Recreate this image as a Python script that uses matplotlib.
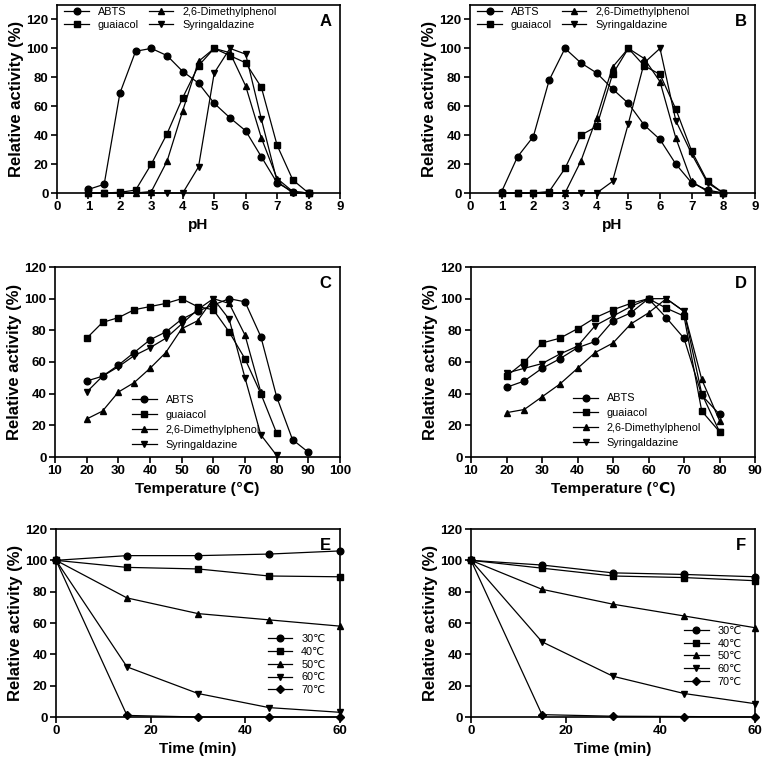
import numpy as np
import matplotlib
matplotlib.use("Agg")
import matplotlib.pyplot as plt

plt.rcParams['font.family'] = ['Liberation Sans', 'DejaVu Sans', 'Noto Sans CJK SC']

# ---- data ----
substrates = ["ABTS", "guaiacol", "2,6-Dimethylphenol", "Syringaldazine"]
ph = [1, 1.5, 2, 2.5, 3, 3.5, 4, 4.5, 5, 5.5, 6, 6.5, 7, 7.5, 8]

# panel A (pH)
a_abts = [2.5, 6, 69, 98, 100, 95, 84, 76, 62, 52, 43, 25, 7, 1, 0]
a_guai = [0, 0, 0.5, 2, 20, 41, 66, 88, 100, 95, 90, 73, 33, 9, 0]
a_dmp = [0, 0, 0, 0, 1, 22, 57, 91, 100, 97, 74, 38, 10, 1, 0]
a_syr = [0, 0, 0, 0, 0, 0, 0, 18, 83, 100, 96, 51, 8, 0, 0]

# panel B (pH)
b_abts = [1, 25, 39, 78, 100, 90, 83, 72, 62, 47, 37, 20, 7, 2, 0]
b_guai = [0, 0, 0, 1, 17, 40, 46, 82, 100, 88, 82, 58, 29, 8, 0]
b_dmp = [0, 0, 0, 0, 0, 22, 52, 87, 100, 93, 77, 38, 8, 1, 0]
b_syr = [0, 0, 0, 0, 0, 0, 0, 8, 48, 90, 100, 50, 27, 7, 0]

# panel C (temperature)
temp_c = [20, 25, 30, 35, 40, 45, 50, 55, 60, 65, 70, 75, 80, 85, 90]
c_abts = [48, 51, 58, 66, 74, 79, 87, 92, 96, 100, 98, 76, 38, 11, 3]
c_guai = [75, 85, 88, 93, 95, 97, 100, 95, 93, 79, 62, 40, 15]
c_dmp = [24, 29, 41, 47, 56, 66, 81, 86, 100, 97, 77, 41]
c_syr = [41, 51, 57, 64, 69, 75, 84, 93, 100, 87, 50, 14, 1]

# panel D (temperature)
temp_d = [20, 25, 30, 35, 40, 45, 50, 55, 60, 65, 70, 75, 80]
d_abts = [44, 48, 56, 62, 69, 73, 86, 91, 100, 88, 75, 39, 27]
d_guai = [51, 60, 72, 75, 81, 88, 93, 97, 100, 94, 89, 29, 16]
d_dmp = [28, 30, 38, 46, 56, 66, 72, 84, 91, 100, 92, 49, 23]
d_syr = [53, 56, 59, 65, 70, 83, 89, 95, 100, 100, 92, 40, 16]

# panels E, F (thermostability)
temps = ["30℃", "40℃", "50℃", "60℃", "70℃"]
time_min = [0, 15, 30, 45, 60]
e_30 = [100, 103, 103, 104, 106]
e_40 = [100, 95.5, 94.5, 90, 89.5]
e_50 = [100, 76, 66, 62, 58]
e_60 = [100, 32, 15, 6, 3]
e_70 = [100, 1, 0, 0, 0]
f_30 = [100, 97, 92, 91, 89.5]
f_40 = [100, 95, 90, 89, 87]
f_50 = [100, 81.5, 72, 64.5, 57]
f_60 = [100, 48, 26, 15, 8.5]
f_70 = [100, 1.5, 0.5, 0.3, 0]

markers = ['o', 's', '^', 'v', 'D']

fig = plt.figure(figsize=(7.66, 7.65), dpi=100)
W, H = 766.0, 765.0


def make_axes(left, top, right, bottom):
    # pixel box -> figure fraction
    return fig.add_axes([left / W, 1 - bottom / H, (right - left) / W, (bottom - top) / H])


def draw(ax, xs_list, ys_list, labels, xlim, ylim, xticks, xlabel, letter,
         leg_anchor, leg_cols, leg_space=0.25):
    for i, (xs, ys) in enumerate(zip(xs_list, ys_list)):
        ms = 3.8 if markers[i] == 'D' else 4.8
        ax.plot(xs, ys, color='black', lw=0.9, marker=markers[i], ms=ms,
                label=labels[i], clip_on=False, zorder=3)
    ax.set_xlim(*xlim)
    ax.set_ylim(*ylim)
    ax.set_xticks(xticks)
    ax.set_yticks([0, 20, 40, 60, 80, 100, 120])
    for sp in ax.spines.values():
        sp.set_linewidth(1.2)
    ax.tick_params(direction='out', length=4, width=1.2, labelsize=9.5, pad=2)
    for lab in ax.get_xticklabels() + ax.get_yticklabels():
        lab.set_fontweight('bold')
    ax.set_xlabel(xlabel, fontsize=11, fontweight='bold', labelpad=3)
    ax.set_ylabel("Relative activity (%)", fontsize=12, fontweight='bold', labelpad=2)
    ax.text(0.97, 0.95, letter, transform=ax.transAxes, ha='right', va='top',
            fontsize=12, fontweight='bold')
    ax.legend(loc='upper left', bbox_to_anchor=leg_anchor, ncol=leg_cols,
              frameon=False, fontsize=7.8, handlelength=2.3, handletextpad=0.8,
              columnspacing=0.9, labelspacing=leg_space, borderpad=0, borderaxespad=0)


axA = make_axes(57, 5, 340, 193)
draw(axA, [ph] * 4, [a_abts, a_guai, a_dmp, a_syr], substrates, (0, 9), (0, 130),
     range(0, 10), "pH", "A", (0.025, 0.99), 2)

axB = make_axes(470, 5, 755, 193)
draw(axB, [ph] * 4, [b_abts, b_guai, b_dmp, b_syr], substrates, (0, 9), (0, 130),
     range(0, 10), "pH", "B", (0.025, 0.99), 2)

axC = make_axes(55, 267, 340, 457)
draw(axC, [temp_c, temp_c[:13], temp_c[:12], temp_c[:13]],
     [c_abts, c_guai, c_dmp, c_syr], substrates, (10, 100), (0, 120),
     range(10, 101, 10), "Temperature (℃)", "C", (0.27, 0.325), 1, 0.45)

axD = make_axes(471, 267, 755, 457)
draw(axD, [temp_d] * 4, [d_abts, d_guai, d_dmp, d_syr], substrates, (10, 90), (0, 120),
     range(10, 91, 10), "Temperature (℃)", "D", (0.36, 0.335), 1, 0.45)

axE = make_axes(56, 529, 340, 717)
draw(axE, [time_min] * 5, [e_30, e_40, e_50, e_60, e_70], temps, (0, 60), (0, 120),
     [0, 20, 40, 60], "Time (min)", "E", (0.745, 0.44), 1)

axF = make_axes(471, 529, 755, 717)
draw(axF, [time_min] * 5, [f_30, f_40, f_50, f_60, f_70], temps, (0, 60), (0, 120),
     [0, 20, 40, 60], "Time (min)", "F", (0.75, 0.485), 1)

fig.savefig("out.png", dpi=100)
